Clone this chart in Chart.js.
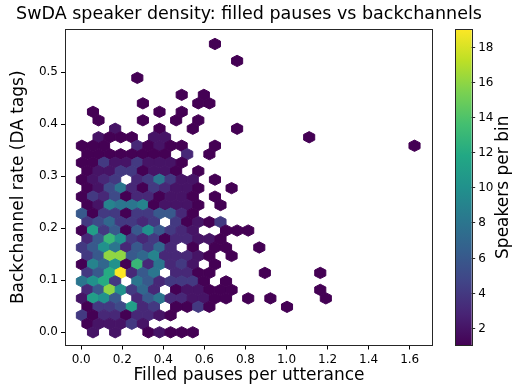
<!DOCTYPE html>
<html><head><meta charset="utf-8">
<script src="https://cdn.jsdelivr.net/npm/chart.js@4"></script>
<style>html,body{margin:0;padding:0;background:#fff}#wrap{width:521px;height:390px}</style>
</head><body><div id="wrap"><canvas id="c" width="521" height="390"></canvas></div>
<script>
const chartTitle = 'SwDA speaker density: filled pauses vs backchannels';
const xLabel = 'Filled pauses per utterance';
const yLabel = 'Backchannel rate (DA tags)';
const cbarLabel = 'Speakers per bin';
const xTicks = [0.0, 0.2, 0.4, 0.6, 0.8, 1.0, 1.2, 1.4, 1.6];
const yTicks = [0.0, 0.1, 0.2, 0.3, 0.4, 0.5];
const cbarTicks = [2, 4, 6, 8, 10, 12, 14, 16, 18];
const countMin = 1, countMax = 19;
const xRange = [-0.0788, 1.7135];
const yRange = [-0.0254, 0.583];
// hexbin lattice (data units)
const binWidth = 0.054, binHeight = 0.0326, binOriginX = 0.0035, binOriginY = 0.0;
// [half-row index, half-column index, speakers in bin]
const hexBins = [
 [34,24,1],
 [32,28,1],
 [30,10,1],
 [28,18,1],[28,22,1],
 [27,11,1],[27,21,1],[27,23,1],
 [26,2,1],[26,14,1],[26,18,1],
 [25,3,1],[25,11,1],[25,17,1],[25,21,1],
 [24,6,2],[24,14,1],[24,20,1],[24,28,1],
 [23,3,2],[23,5,1],[23,7,1],[23,9,1],[23,13,2],[23,15,2],[23,41,1],
 [22,0,1],[22,2,1],[22,4,1],[22,10,3],[22,12,1],[22,14,2],[22,16,1],[22,18,1],[22,24,1],[22,60,1],
 [21,1,1],[21,3,1],[21,5,1],[21,7,1],[21,9,1],[21,11,1],[21,13,1],[21,15,1],[21,19,3],[21,23,1],
 [20,0,1],[20,2,1],[20,4,4],[20,6,2],[20,8,2],[20,10,4],[20,12,2],[20,14,2],[20,16,2],[20,18,1],
 [19,1,1],[19,3,2],[19,5,2],[19,7,4],[19,9,4],[19,11,1],[19,13,2],[19,15,2],[19,17,1],[19,21,1],
 [18,0,1],[18,2,2],[18,4,3],[18,6,4],[18,10,3],[18,12,4],[18,14,8],[18,16,4],[18,18,2],[18,20,2],[18,24,1],
 [17,1,1],[17,3,2],[17,5,5],[17,7,8],[17,9,3],[17,11,1],[17,13,4],[17,15,3],[17,17,2],[17,19,2],[17,21,1],[17,27,1],
 [16,0,1],[16,2,4],[16,4,3],[16,6,5],[16,8,1],[16,10,3],[16,12,3],[16,14,1],[16,16,2],[16,18,2],[16,20,1],[16,24,1],
 [15,1,1],[15,3,2],[15,5,9],[15,7,8],[15,9,8],[15,11,9],[15,13,1],[15,15,2],[15,17,2],[15,19,2],[15,21,1],[15,25,1],
 [14,0,6],[14,2,1],[14,4,4],[14,6,4],[14,8,1],[14,10,4],[14,12,4],[14,14,6],[14,16,6],[14,18,3],[14,20,1],
 [13,1,4],[13,3,5],[13,5,7],[13,7,4],[13,9,4],[13,11,3],[13,13,4],[13,17,4],[13,19,1],[13,21,2],[13,23,1],[13,25,4],
 [12,0,1],[12,2,11],[12,4,4],[12,6,6],[12,8,1],[12,10,6],[12,12,10],[12,14,6],[12,16,4],[12,18,3],[12,20,2],[12,26,1],[12,28,1],[12,30,1],
 [11,1,3],[11,3,6],[11,5,13],[11,7,10],[11,9,4],[11,11,3],[11,13,4],[11,15,1],[11,17,3],[11,19,3],[11,21,2],[11,23,2],[11,25,1],
 [10,0,4],[10,2,6],[10,4,10],[10,6,8],[10,8,3],[10,10,6],[10,12,4],[10,14,7],[10,16,3],[10,20,1],[10,24,1],[10,26,1],[10,32,1],
 [9,1,4],[9,3,6],[9,5,16],[9,7,16],[9,9,6],[9,11,7],[9,13,9],[9,15,3],[9,17,3],[9,19,3],[9,21,2],[9,23,1],[9,27,1],
 [8,0,1],[8,2,9],[8,4,7],[8,6,10],[8,8,1],[8,10,13],[8,12,3],[8,14,8],[8,16,3],[8,18,4],[8,20,2],[8,24,1],
 [7,1,4],[7,3,6],[7,5,12],[7,7,19],[7,9,3],[7,11,6],[7,13,8],[7,17,3],[7,19,3],[7,21,1],[7,23,1],[7,33,1],[7,43,1],
 [6,0,8],[6,2,10],[6,4,12],[6,6,4],[6,10,8],[6,12,6],[6,14,3],[6,16,4],[6,18,4],[6,20,4],[6,22,1],[6,26,1],
 [5,1,3],[5,3,6],[5,5,16],[5,7,10],[5,9,4],[5,11,7],[5,13,3],[5,17,1],[5,19,2],[5,21,2],[5,23,1],[5,25,1],[5,27,1],[5,43,1],
 [4,0,2],[4,2,11],[4,4,10],[4,6,6],[4,10,3],[4,12,6],[4,14,8],[4,16,3],[4,18,3],[4,20,2],[4,22,2],[4,24,1],[4,26,1],[4,30,1],[4,34,1],[4,44,1],
 [3,1,1],[3,3,4],[3,5,4],[3,7,5],[3,9,11],[3,11,3],[3,13,4],[3,17,1],[3,19,1],[3,21,4],[3,23,1],[3,37,1],
 [2,0,4],[2,2,1],[2,4,3],[2,6,3],[2,8,1],[2,10,3],[2,12,3],[2,14,2],[2,16,1],
 [1,1,1],[1,3,2],[1,5,2],[1,7,2],[1,9,4],[1,11,2],
 [0,2,2],[0,6,2],[0,12,1],[0,14,2],[0,16,1],[0,18,1],[0,20,1]
];

const FONT = "'DejaVu Sans', 'Liberation Sans', sans-serif";
const viridisStops = ['#440154','#482475','#414487','#355f8d','#2a788e','#21918c','#22a884','#44bf70','#7ad151','#bddf26','#fde725'];
function hexToRgb(h){return [parseInt(h.substr(1,2),16),parseInt(h.substr(3,2),16),parseInt(h.substr(5,2),16)];}
const viridisRgb = viridisStops.map(hexToRgb);
function viridis(t){
  t = Math.max(0, Math.min(1, t));
  const s = t * (viridisRgb.length - 1);
  const i = Math.min(Math.floor(s), viridisRgb.length - 2);
  const f = s - i;
  const a = viridisRgb[i], b = viridisRgb[i+1];
  return 'rgb(' + a.map((v,k)=>Math.round(v + (b[k]-v)*f)).join(',') + ')';
}
function countColor(n){ return viridis((n - countMin) / (countMax - countMin)); }

const points = hexBins.map(([r, c, n]) => ({
  x: binOriginX + c * binWidth / 2,
  y: binOriginY + r * binHeight / 2,
  n: n
}));

const hexShape = [[0.5,-0.5],[0.5,0.5],[0,1],[-0.5,0.5],[-0.5,-0.5],[0,-1]];

const hexPlugin = {
  id: 'hexbin',
  afterDatasetsDraw(chart) {
    const {ctx, chartArea: a} = chart;
    const xs = chart.scales.x, ys = chart.scales.y;
    ctx.save();
    ctx.beginPath();
    ctx.rect(a.left, a.top, a.right - a.left, a.bottom - a.top);
    ctx.clip();
    chart.data.datasets[0].data.forEach(p => {
      const col = countColor(p.n);
      ctx.beginPath();
      hexShape.forEach(([dx, dy], k) => {
        const px = xs.getPixelForValue(p.x + dx * binWidth);
        const py = ys.getPixelForValue(p.y + dy * binHeight / 3);
        if (k === 0) ctx.moveTo(px, py); else ctx.lineTo(px, py);
      });
      ctx.closePath();
      ctx.fillStyle = col;
      ctx.strokeStyle = col;
      ctx.lineWidth = 1;
      ctx.fill();
      ctx.stroke();
    });
    ctx.restore();
    // frame
    ctx.save();
    ctx.strokeStyle = '#262626';
    ctx.lineWidth = 1;
    ctx.strokeRect(Math.round(a.left) + 0.5, Math.round(a.top) + 0.5, Math.round(a.right - a.left) - 1, Math.round(a.bottom - a.top) - 1);
    ctx.restore();
  },
  afterDraw(chart) {
    const {ctx, chartArea: a} = chart;
    // title centred over the plot area
    ctx.save();
    ctx.fillStyle = '#000';
    ctx.font = '17.5px ' + FONT;
    ctx.textAlign = 'center';
    ctx.textBaseline = 'alphabetic';
    ctx.fillText(chartTitle, (a.left + a.right) / 2, a.top - 9.8);
    ctx.restore();
    // colour bar
    const cb = chart.scales.cbar;
    const x0 = a.right + 22, w = 16.7;
    const top = cb.getPixelForValue(countMax), bottom = cb.getPixelForValue(countMin);
    ctx.save();
    const g = ctx.createLinearGradient(0, bottom, 0, top);
    viridisStops.forEach((c, i) => g.addColorStop(i / (viridisStops.length - 1), c));
    ctx.fillStyle = g;
    ctx.fillRect(x0, top, w, bottom - top);
    ctx.strokeStyle = '#262626';
    ctx.lineWidth = 1;
    ctx.strokeRect(Math.round(x0) + 0.5, Math.round(top) + 0.5, Math.round(w), Math.round(bottom - top) - 1);
    ctx.fillStyle = '#000';
    ctx.font = '12px ' + FONT;
    ctx.textAlign = 'left';
    ctx.textBaseline = 'middle';
    cbarTicks.forEach(v => {
      const y = Math.round(cb.getPixelForValue(v)) + 0.5;
      ctx.beginPath();
      ctx.moveTo(x0 + w, y);
      ctx.lineTo(x0 + w + 3.5, y);
      ctx.stroke();
      ctx.fillText(String(v), x0 + w + 6.5, y);
    });
    ctx.font = '17px ' + FONT;
    ctx.textAlign = 'center';
    ctx.translate(x0 + w + 32, (top + bottom) / 2);
    ctx.rotate(-Math.PI / 2);
    ctx.fillText(cbarLabel, 0, 0);
    ctx.restore();
  }
};

const tickFont = {family: FONT, size: 12};
const titleFont = {family: FONT, size: 17};

new Chart(document.getElementById('c'), {
  type: 'scatter',
  data: { datasets: [{ data: points, pointRadius: 0, pointHoverRadius: 0, backgroundColor: 'rgba(0,0,0,0)' }] },
  options: {
    responsive: false,
    animation: false,
    devicePixelRatio: 1,
    events: [],
    layout: { padding: { left: 0, right: 88, top: 29, bottom: 0 } },
    plugins: {
      legend: { display: false },
      tooltip: { enabled: false },
      title: { display: false }
    },
    scales: {
      x: {
        type: 'linear', min: xRange[0], max: xRange[1],
        afterBuildTicks: s => { s.ticks = xTicks.map(v => ({ value: v })); },
        afterFit: s => { s.height = 44.5; },
        ticks: { callback: v => Number(v).toFixed(1), font: tickFont, color: '#000', padding: 3, maxRotation: 0, autoSkip: false },
        grid: { display: true, drawOnChartArea: false, drawTicks: true, tickLength: 4, tickColor: '#000', tickWidth: 1 },
        border: { display: false },
        title: { display: true, text: xLabel, font: titleFont, color: '#000', padding: { top: 0, bottom: 4.3 } }
      },
      y: {
        type: 'linear', min: yRange[0], max: yRange[1],
        afterBuildTicks: s => { s.ticks = yTicks.map(v => ({ value: v })); },
        afterFit: s => { s.width = 65; },
        ticks: { callback: v => Number(v).toFixed(1), font: tickFont, color: '#000', padding: 3, autoSkip: false },
        grid: { display: true, drawOnChartArea: false, drawTicks: true, tickLength: 4, tickColor: '#000', tickWidth: 1 },
        border: { display: false },
        title: { display: true, text: yLabel, font: titleFont, color: '#000', padding: { top: 8.2, bottom: 0 } }
      },
      cbar: { type: 'linear', axis: 'y', position: 'right', display: false, min: countMin, max: countMax }
    }
  },
  plugins: [hexPlugin]
});
</script>
</body></html>
